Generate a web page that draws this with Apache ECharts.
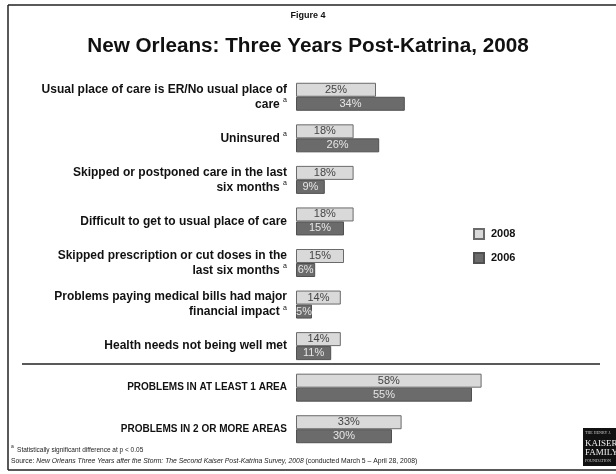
<!DOCTYPE html>
<html>
<head>
<meta charset="utf-8">
<script src="https://cdn.jsdelivr.net/npm/echarts@6/dist/echarts.min.js"></script>
<style>
  html, body { margin: 0; padding: 0; background: #fff; }
  #chart { width: 616px; height: 474px; }
</style>
</head>
<body>
<div id="chart"></div>
<script>
// Survey items, top to bottom
const categories = [
  'Usual place of care is ER/No usual place of\ncare',
  'Uninsured',
  'Skipped or postponed care in the last\nsix months',
  'Difficult to get to usual place of care',
  'Skipped prescription or cut doses in the\nlast six months',
  'Problems paying medical bills had major\nfinancial impact',
  'Health needs not being well met',
  'PROBLEMS IN AT LEAST 1 AREA',
  'PROBLEMS IN 2 OR MORE AREAS'
];
// items carrying the significance footnote marker
const significant = [true, true, true, false, true, true, false, false, false];
// summary rows set in capitals below the rule
const summaryRows = [false, false, false, false, false, false, false, true, true];

const years = ['2008', '2006'];
const values2008 = [25, 18, 18, 18, 15, 14, 14, 58, 33];
const values2006 = [34, 26, 9, 15, 6, 5, 11, 55, 30];

const FONT = '"Liberation Sans", Arial, sans-serif';

const chart = echarts.init(document.getElementById('chart'), null, { renderer: 'canvas' });

function categoryLabel(value, idx) {
  const style = summaryRows[idx] ? 'caps' : 'b';
  const lines = value.split('\n');
  let out = lines.map(l => '{' + style + '|' + l + '}').join('\n');
  if (significant[idx]) out += '{b| }{sup|a}';
  return out;
}

chart.setOption({
  backgroundColor: '#ffffff',
  animation: false,
  title: [
    {
      text: 'Figure 4',
      left: 'center',
      top: 6,
      textStyle: { fontFamily: FONT, fontSize: 9, fontWeight: 'bold', color: '#111' }
    },
    {
      text: 'New Orleans: Three Years Post-Katrina, 2008',
      left: 'center',
      top: 31,
      textStyle: { fontFamily: FONT, fontSize: 20.7, fontWeight: 'bold', color: '#111' }
    }
  ],
  legend: {
    data: years,
    orient: 'vertical',
    left: 468,
    top: 223,
    itemWidth: 10,
    itemHeight: 10,
    itemGap: 12,
    icon: 'rect',
    textStyle: { fontFamily: FONT, fontSize: 11, fontWeight: 'bold', color: '#111', padding: [0, 0, 0, 2] }
  },
  grid: { left: 296, right: 0, top: 76, bottom: 24, containLabel: false },
  xAxis: {
    type: 'value',
    min: 0,
    max: 100,
    show: false
  },
  yAxis: {
    type: 'category',
    data: categories,
    inverse: true,
    axisLine: { show: false },
    axisTick: { show: false },
    splitLine: { show: false },
    axisLabel: {
      margin: 9,
      align: 'right',
      formatter: categoryLabel,
      rich: {
        b: { fontFamily: FONT, fontSize: 12, fontWeight: 'bold', color: '#111', lineHeight: 15 },
        caps: { fontFamily: FONT, fontSize: 10, fontWeight: 'bold', color: '#111', lineHeight: 15 },
        sup: { fontFamily: FONT, fontSize: 7, color: '#111', lineHeight: 8, verticalAlign: 'top' }
      }
    }
  },
  series: [
    {
      name: years[0],
      type: 'bar',
      data: values2008,
      barWidth: 14,
      barGap: '0%',
      itemStyle: { color: '#d9d9d9', borderColor: '#6a6a6a', borderWidth: 1 },
      label: {
        show: true,
        position: 'inside',
        formatter: '{c}%',
        fontFamily: FONT,
        fontSize: 11,
        color: '#444'
      }
    },
    {
      name: years[1],
      type: 'bar',
      data: values2006,
      barWidth: 14,
      itemStyle: { color: '#6b6b6b', borderColor: '#505050', borderWidth: 1 },
      label: {
        show: true,
        position: 'inside',
        formatter: '{c}%',
        fontFamily: FONT,
        fontSize: 11,
        color: '#e6e6e6'
      }
    }
  ],
  graphic: [
    // page frame
    { type: 'line', shape: { x1: 8, y1: 5, x2: 616, y2: 5 }, style: { stroke: '#222', lineWidth: 1.5 } },
    { type: 'line', shape: { x1: 8, y1: 5, x2: 8, y2: 470 }, style: { stroke: '#222', lineWidth: 1.5 } },
    { type: 'line', shape: { x1: 8, y1: 470, x2: 616, y2: 470 }, style: { stroke: '#222', lineWidth: 1.5 } },
    // rule between item rows and summary rows
    { type: 'line', shape: { x1: 22, y1: 364, x2: 600, y2: 364 }, style: { stroke: '#222', lineWidth: 1.5 } },
    // footnotes
    {
      type: 'text', left: 11, top: 444,
      style: {
        text: '{sup|a} {n|Statistically significant difference at p < 0.05}',
        rich: {
          sup: { fontFamily: FONT, fontSize: 5, fill: '#222', verticalAlign: 'top' },
          n: { fontFamily: FONT, fontSize: 6.5, fill: '#222' }
        }
      }
    },
    {
      type: 'text', left: 11, top: 458,
      style: {
        text: '{n|Source: }{i|New Orleans Three Years after the Storm: The Second Kaiser Post-Katrina Survey, 2008}{n| (conducted March 5 \u2013 April 28, 2008)}',
        rich: {
          n: { fontFamily: FONT, fontSize: 6.8, fill: '#222' },
          i: { fontFamily: FONT, fontSize: 6.8, fontStyle: 'italic', fill: '#222' }
        }
      }
    },
    // foundation logo
    {
      type: 'group', left: 583, top: 428,
      children: [
        { type: 'rect', shape: { x: 0, y: 0, width: 36, height: 38 }, style: { fill: '#111' } },
        { type: 'text', x: 2, y: 3, style: { text: 'THE HENRY J.', fontFamily: '"Liberation Serif", serif', fontSize: 4, fill: '#ccc' } },
        { type: 'text', x: 2, y: 11, style: { text: 'KAISER', fontFamily: '"Liberation Serif", serif', fontSize: 9, fill: '#eee' } },
        { type: 'text', x: 2, y: 20, style: { text: 'FAMILY', fontFamily: '"Liberation Serif", serif', fontSize: 9, fill: '#eee' } },
        { type: 'text', x: 2, y: 31, style: { text: 'FOUNDATION', fontFamily: '"Liberation Serif", serif', fontSize: 4, fill: '#ccc' } }
      ]
    }
  ]
});
</script>
</body>
</html>
